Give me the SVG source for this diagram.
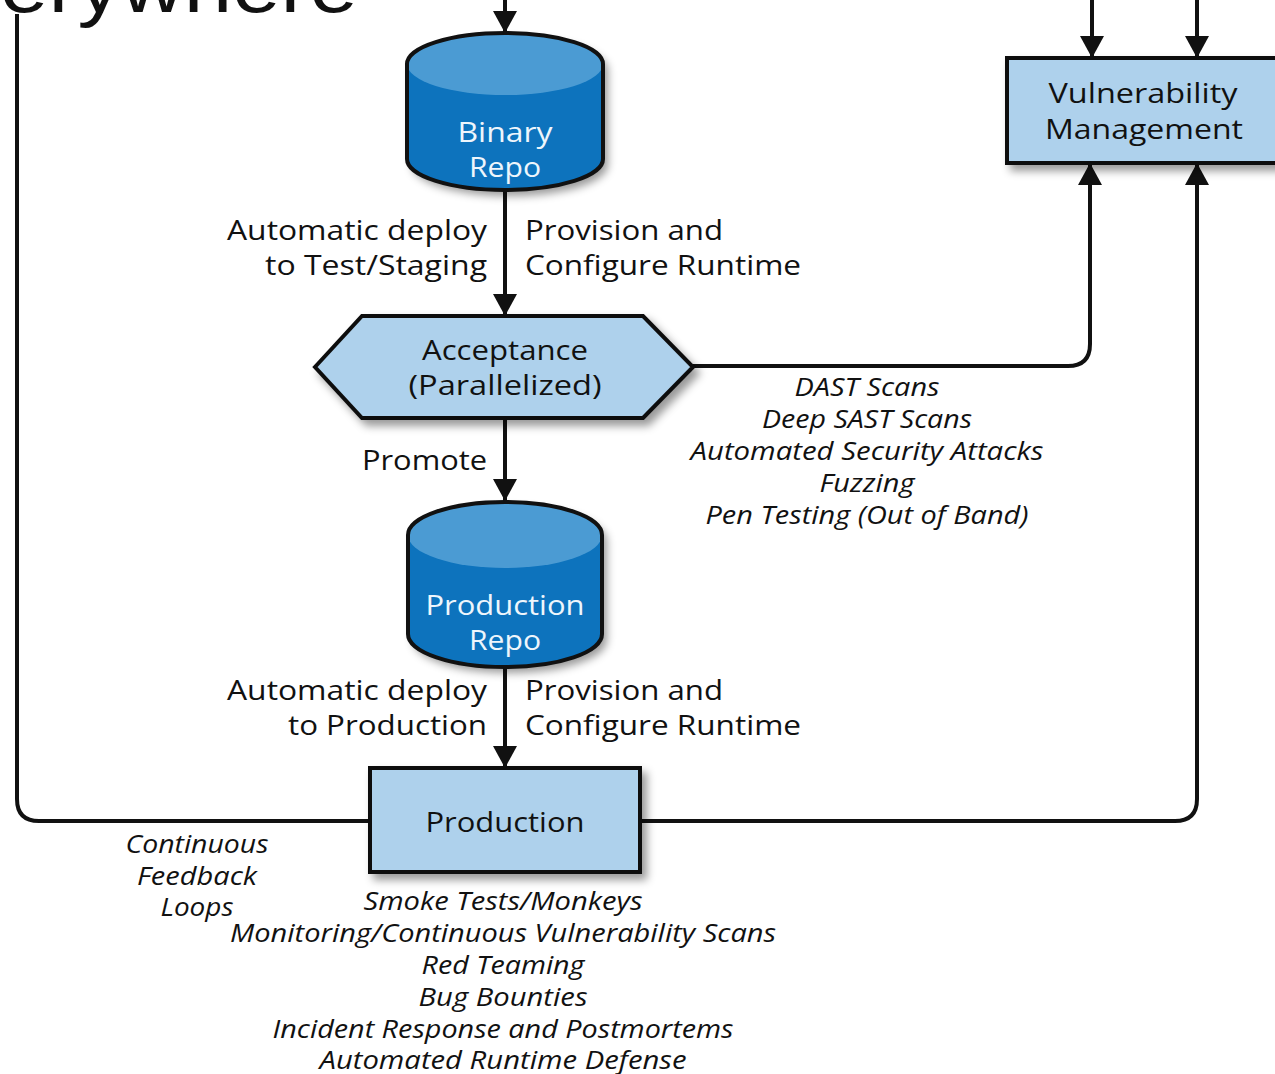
<svg xmlns="http://www.w3.org/2000/svg" width="1275" height="1074" viewBox="0 0 1275 1074">
<style>
.lbl{font-family:"Open Sans","Noto Sans","Liberation Sans",sans-serif;font-size:28px;fill:#111}
.it{font-family:"Open Sans","Noto Sans","Liberation Sans",sans-serif;font-size:25px;font-style:italic;fill:#111;text-anchor:middle}
.wt{font-family:"Open Sans","Noto Sans","Liberation Sans",sans-serif;font-size:28px;fill:#eef6fc;text-anchor:middle}
.mid{text-anchor:middle}
.end{text-anchor:end}
.box{fill:#aed1ec;stroke:#111;stroke-width:4}
.cyl{fill:#0f73bd}
.cyltop{fill:#4b9bd3}
.out{fill:none;stroke:#111;stroke-width:4}
.con{fill:none;stroke:#111;stroke-width:4}
</style>
<defs>
<marker id="ah" markerUnits="userSpaceOnUse" markerWidth="22" markerHeight="24" viewBox="0 0 22 24" refX="22" refY="12" orient="auto">
<path d="M0,0 L22,12 L0,24 Z" fill="#111"/>
</marker>
<filter id="sh" x="-20%" y="-20%" width="150%" height="160%">
<feDropShadow dx="5" dy="6" stdDeviation="4" flood-color="#000" flood-opacity="0.4"/>
</filter>
</defs>
<rect width="1275" height="1074" fill="#fff"/>
<text x="0" y="12" font-family="'Liberation Sans',sans-serif" font-size="76" fill="#111" textLength="358" lengthAdjust="spacingAndGlyphs">erywhere</text>

<g id="connectors">
<path class="con" d="M505,0 L505,33" marker-end="url(#ah)"/>
<path class="con" d="M505,190 L505,316" marker-end="url(#ah)"/>
<path class="con" d="M505,418 L505,501" marker-end="url(#ah)"/>
<path class="con" d="M505,667 L505,768" marker-end="url(#ah)"/>
<path class="con" d="M1092,0 L1092,58" marker-end="url(#ah)"/>
<path class="con" d="M1197,0 L1197,58" marker-end="url(#ah)"/>
<path class="con" d="M693,366 L1068,366 Q1090,366 1090,344 L1090,163" marker-end="url(#ah)"/>
<path class="con" d="M640,821 L1175,821 Q1197,821 1197,799 L1197,163" marker-end="url(#ah)"/>
<path class="con" d="M370,821 L39,821 Q17,821 17,799 L17,14"/>
</g>

<g id="binary-repo">
<g filter="url(#sh)">
<path class="cyl" d="M407,64 A98,31 0 0 1 603,64 L603,159 A98,31 0 0 1 407,159 Z"/>
</g>
<ellipse class="cyltop" cx="505" cy="64" rx="98" ry="31"/>
<path class="out" d="M407,64 A98,31 0 0 1 603,64 L603,159 A98,31 0 0 1 407,159 Z"/>
<text class="wt" x="505" y="142" textLength="95" lengthAdjust="spacingAndGlyphs">Binary</text>
<text class="wt" x="505" y="177" textLength="72" lengthAdjust="spacingAndGlyphs">Repo</text>
</g>

<g id="labels-1">
<text class="lbl end" x="487" y="240" textLength="260" lengthAdjust="spacingAndGlyphs">Automatic deploy</text>
<text class="lbl end" x="487" y="275" textLength="222" lengthAdjust="spacingAndGlyphs">to Test/Staging</text>
<text class="lbl" x="525" y="240" textLength="198" lengthAdjust="spacingAndGlyphs">Provision and</text>
<text class="lbl" x="525" y="275" textLength="276" lengthAdjust="spacingAndGlyphs">Configure Runtime</text>
</g>

<g id="acceptance">
<polygon class="box" filter="url(#sh)" points="315,367 362,316 643,316 693,367 643,418 362,418"/>
<text class="lbl mid" x="505" y="360" textLength="166" lengthAdjust="spacingAndGlyphs">Acceptance</text>
<text class="lbl mid" x="505" y="395" textLength="193" lengthAdjust="spacingAndGlyphs">(Parallelized)</text>
</g>

<g id="acceptance-notes">
<text class="it" x="867" y="396" textLength="145" lengthAdjust="spacingAndGlyphs">DAST Scans</text>
<text class="it" x="867" y="428" textLength="210" lengthAdjust="spacingAndGlyphs">Deep SAST Scans</text>
<text class="it" x="867" y="460" textLength="353" lengthAdjust="spacingAndGlyphs">Automated Security Attacks</text>
<text class="it" x="867" y="492" textLength="95" lengthAdjust="spacingAndGlyphs">Fuzzing</text>
<text class="it" x="867" y="524" textLength="323" lengthAdjust="spacingAndGlyphs">Pen Testing (Out of Band)</text>
</g>

<text class="lbl end" x="487" y="470" textLength="125" lengthAdjust="spacingAndGlyphs">Promote</text>

<g id="production-repo">
<g filter="url(#sh)">
<path class="cyl" d="M408,535 A97,33 0 0 1 602,535 L602,634 A97,33 0 0 1 408,634 Z"/>
</g>
<ellipse class="cyltop" cx="505" cy="535" rx="97" ry="33"/>
<path class="out" d="M408,535 A97,33 0 0 1 602,535 L602,634 A97,33 0 0 1 408,634 Z"/>
<text class="wt" x="505" y="615" textLength="159" lengthAdjust="spacingAndGlyphs">Production</text>
<text class="wt" x="505" y="650" textLength="72" lengthAdjust="spacingAndGlyphs">Repo</text>
</g>

<g id="labels-2">
<text class="lbl end" x="487" y="700" textLength="260" lengthAdjust="spacingAndGlyphs">Automatic deploy</text>
<text class="lbl end" x="487" y="735" textLength="199" lengthAdjust="spacingAndGlyphs">to Production</text>
<text class="lbl" x="525" y="700" textLength="198" lengthAdjust="spacingAndGlyphs">Provision and</text>
<text class="lbl" x="525" y="735" textLength="276" lengthAdjust="spacingAndGlyphs">Configure Runtime</text>
</g>

<g id="production">
<rect class="box" filter="url(#sh)" x="370" y="768" width="270" height="104"/>
<text class="lbl mid" x="505" y="832" textLength="159" lengthAdjust="spacingAndGlyphs">Production</text>
</g>

<g id="vulnerability-management">
<rect class="box" filter="url(#sh)" x="1007" y="58" width="290" height="105"/>
<text class="lbl mid" x="1143" y="103" textLength="189" lengthAdjust="spacingAndGlyphs">Vulnerability</text>
<text class="lbl mid" x="1144" y="139" textLength="198" lengthAdjust="spacingAndGlyphs">Management</text>
</g>

<g id="feedback-label">
<text class="it" x="197" y="853" textLength="143" lengthAdjust="spacingAndGlyphs">Continuous</text>
<text class="it" x="197" y="885" textLength="120" lengthAdjust="spacingAndGlyphs">Feedback</text>
<text class="it" x="197" y="916" textLength="73" lengthAdjust="spacingAndGlyphs">Loops</text>
</g>

<g id="production-notes">
<text class="it" x="503" y="910" textLength="279" lengthAdjust="spacingAndGlyphs">Smoke Tests/Monkeys</text>
<text class="it" x="503" y="942" textLength="546" lengthAdjust="spacingAndGlyphs">Monitoring/Continuous Vulnerability Scans</text>
<text class="it" x="503" y="974" textLength="163" lengthAdjust="spacingAndGlyphs">Red Teaming</text>
<text class="it" x="503" y="1006" textLength="169" lengthAdjust="spacingAndGlyphs">Bug Bounties</text>
<text class="it" x="503" y="1038" textLength="461" lengthAdjust="spacingAndGlyphs">Incident Response and Postmortems</text>
<text class="it" x="503" y="1069" textLength="367" lengthAdjust="spacingAndGlyphs">Automated Runtime Defense</text>
</g>
</svg>
